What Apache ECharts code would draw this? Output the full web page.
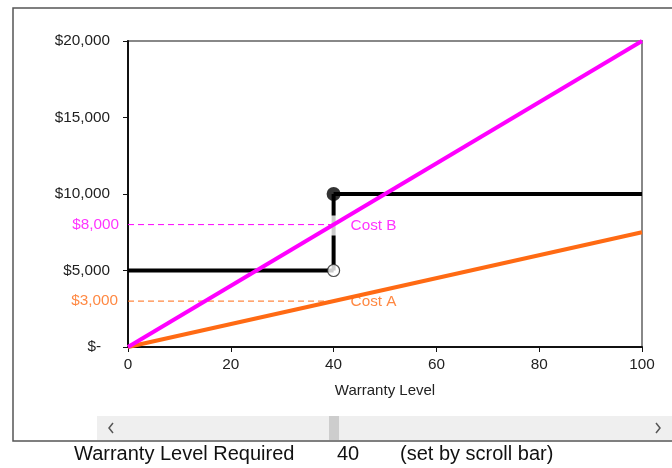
<!DOCTYPE html>
<html>
<head>
<meta charset="utf-8">
<script src="https://cdn.jsdelivr.net/npm/echarts@6/dist/echarts.min.js"></script>
<style>
html,body{margin:0;padding:0;background:#fff;}
#c{width:672px;height:468px;}
</style>
</head>
<body>
<div id="c"></div>
<script>
// ---- data ----
const levelRange = [0, 100];
const costALine = [0, 7500];
const costBLine = [0, 20000];
const selectedLevel = 40;
const lowReward = 5000;
const highReward = 10000;
const costAAtLevel = 3000;
const costBAtLevel = 8000;
const xTicks = [0, 20, 40, 60, 80, 100];
const yTicks = [0, 5000, 10000, 15000, 20000];
const labelCostA = 'Cost A';
const labelCostB = 'Cost B';
const bottomTexts = ['Warranty Level Required', String(selectedLevel), '(set by scroll bar)'];

const MAG = '#FF00FF', ORA = '#FF6A13', FONT = 'Liberation Sans, Arial, sans-serif';
const FS = 15.3;
const fmtMoney = v => '$' + v.toLocaleString('en-US');

const chart = echarts.init(document.getElementById('c'), null, {renderer: 'canvas'});
const option = {
  animation: false,
  textStyle: {fontFamily: FONT},
  grid: {left: 128, right: 30, top: 41, bottom: 121, show: true, borderColor: '#888', borderWidth: 2, backgroundColor: '#fff'},
  xAxis: {
    type: 'value', min: levelRange[0], max: levelRange[1], interval: 20,
    name: 'Warranty Level', nameLocation: 'middle', nameGap: 36,
    nameTextStyle: {fontSize: 15, color: '#222', fontFamily: FONT},
    axisLine: {lineStyle: {color: '#111', width: 2}},
    axisTick: {show: true, length: 5, lineStyle: {color: '#111'}},
    axisLabel: {fontSize: FS, color: '#222', margin: 10, fontFamily: FONT},
    splitLine: {show: false}
  },
  yAxis: {
    type: 'value', min: yTicks[0], max: yTicks[yTicks.length - 1], interval: 5000,
    axisLine: {show: true, lineStyle: {color: '#111', width: 2}},
    axisTick: {show: true, length: 5, lineStyle: {color: '#111'}},
    axisLabel: {
      fontSize: FS, color: '#222', margin: 18, fontFamily: FONT,
      formatter: v => v === 0 ? '{z|$-}' : fmtMoney(v),
      rich: {z: {fontSize: FS, color: '#222', padding: [0, 9, 0, 0], fontFamily: FONT}}
    },
    splitLine: {show: false}
  },
  series: [
    {type: 'line', data: [[selectedLevel, lowReward], [selectedLevel, highReward]], symbol: 'none', lineStyle: {color: '#000', width: 4}, z: 2},
    {type: 'line', data: [[levelRange[0], lowReward], [selectedLevel, lowReward]], symbol: 'none', lineStyle: {color: '#000', width: 4}, z: 2},
    {type: 'line', data: [[selectedLevel, highReward], [levelRange[1], highReward]], symbol: 'none', lineStyle: {color: '#000', width: 4}, z: 2},
    {type: 'line', data: [[levelRange[0], costBAtLevel], [selectedLevel, costBAtLevel]], symbol: 'none', lineStyle: {color: MAG, width: 1, type: [6, 4]}, z: 2},
    {type: 'line', data: [[levelRange[0], costAAtLevel], [selectedLevel, costAAtLevel]], symbol: 'none', lineStyle: {color: ORA, width: 1, type: [6, 4]}, z: 2},
    // Labels
    {type: 'scatter', symbolSize: 0, z: 3, silent: true,
     data: [
       {value: [selectedLevel, costBAtLevel], label: {show: true, position: 'right', distance: -3, formatter: labelCostB, color: MAG, fontSize: FS, fontFamily: FONT, backgroundColor: '#fff', padding: [0, 2, 5, 20], offset: [0, 1]}},
       {value: [selectedLevel, costAAtLevel], label: {show: true, position: 'right', distance: 17, formatter: labelCostA, color: ORA, fontSize: FS, fontFamily: FONT, offset: [0, 1]}},
       {value: [levelRange[0], costBAtLevel], label: {show: true, position: 'left', distance: 9, formatter: fmtMoney(costBAtLevel), color: MAG, fontSize: FS, fontFamily: FONT}},
       {value: [levelRange[0], costAAtLevel], label: {show: true, position: 'left', distance: 10, formatter: fmtMoney(costAAtLevel), color: ORA, fontSize: FS, fontFamily: FONT}}
     ]},
    {type: 'line', data: [[levelRange[0], costALine[0]], [levelRange[1], costALine[1]]], symbol: 'none', lineStyle: {color: ORA, width: 4}, z: 4},
    {type: 'line', data: [[levelRange[0], costBLine[0]], [levelRange[1], costBLine[1]]], symbol: 'none', lineStyle: {color: MAG, width: 4}, z: 5},
    {type: 'scatter', data: [[selectedLevel, highReward]], symbol: 'circle', symbolSize: 14, itemStyle: {color: '#000'}, z: 6},
    {type: 'scatter', data: [[selectedLevel, lowReward]], symbol: 'circle', symbolSize: 12, itemStyle: {color: '#fff', borderColor: '#222', borderWidth: 1.2}, z: 6}
  ],
  graphic: [
    {type: 'rect', shape: {x: 13, y: 8, width: 700, height: 433}, style: {fill: 'none', stroke: '#555', lineWidth: 1.5}, z: -10, silent: true},
    {type: 'rect', shape: {x: 97, y: 416, width: 575, height: 24}, style: {fill: '#efefef'}, z: 10, silent: true},
    {type: 'rect', shape: {x: 329, y: 416, width: 10, height: 24}, style: {fill: '#cdcdcd'}, z: 11, silent: true},
    {type: 'polyline', shape: {points: [[113, 423], [109, 428], [113, 433]]}, style: {stroke: '#555', fill: 'none', lineWidth: 1.5}, z: 11},
    {type: 'polyline', shape: {points: [[656, 423], [660, 428], [656, 433]]}, style: {stroke: '#555', fill: 'none', lineWidth: 1.5}, z: 11},
    {type: 'text', left: 74, top: 444, style: {text: bottomTexts[0], font: '20px ' + FONT, fill: '#111'}, z: 11},
    {type: 'text', left: 337, top: 444, style: {text: bottomTexts[1], font: '20px ' + FONT, fill: '#111'}, z: 11},
    {type: 'text', left: 400, top: 444, style: {text: bottomTexts[2], font: '20px ' + FONT, fill: '#111'}, z: 11}
  ]
};
chart.setOption(option);
</script>
</body>
</html>
